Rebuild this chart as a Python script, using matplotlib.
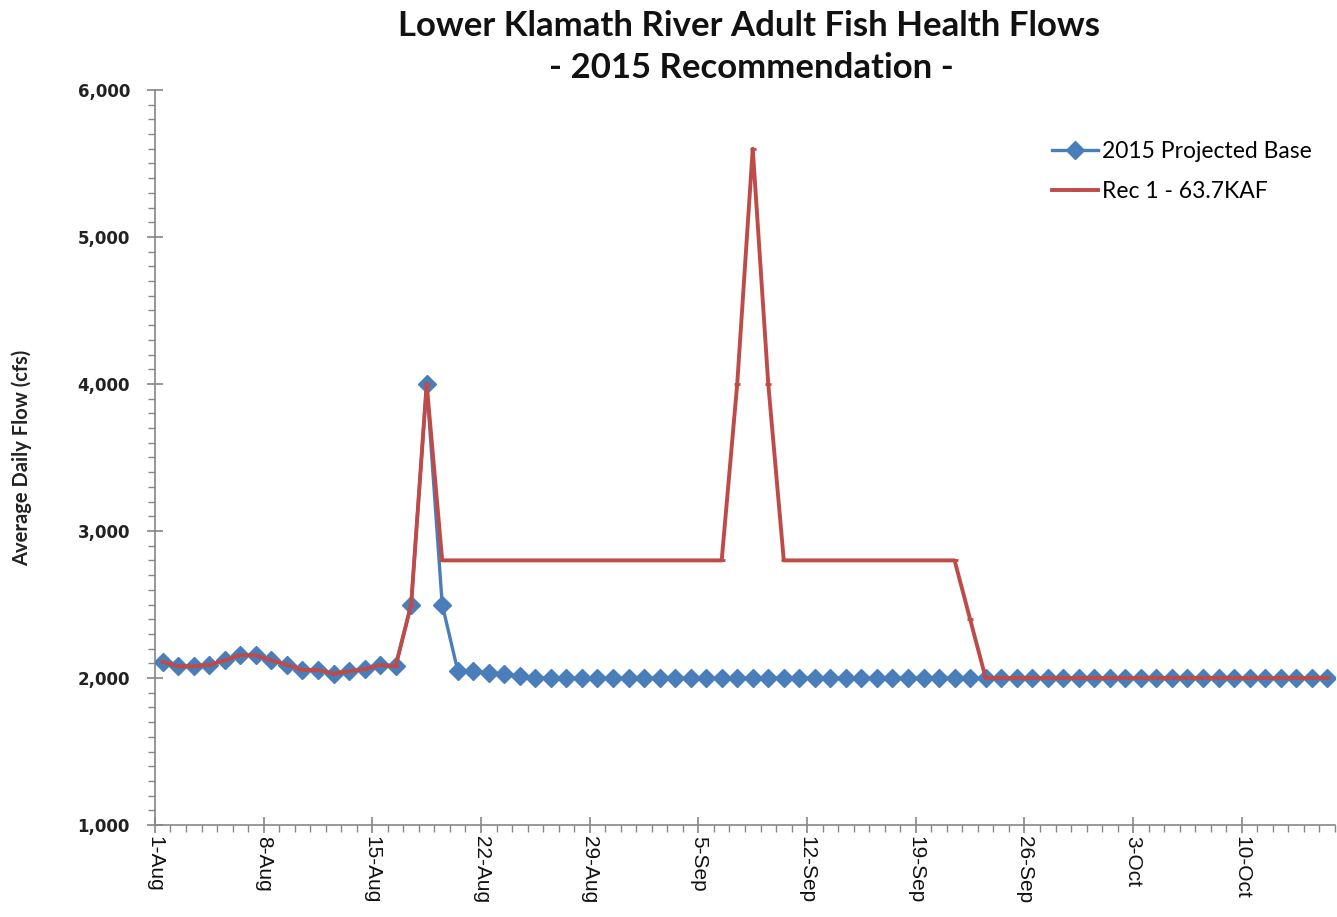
import matplotlib
matplotlib.use('Agg')
import matplotlib.pyplot as plt
import matplotlib.dates as mdates
import matplotlib.ticker as mticker
import pandas as pd

# daily dates, 1-Aug through 15-Oct 2015
days = pd.date_range('2015-08-01', '2015-10-15', freq='D')

# average daily flow (cfs)
base_2015 = ([2110, 2080, 2080, 2090, 2120, 2155, 2155, 2120, 2090, 2055,
              2055, 2030, 2045, 2060, 2090, 2080, 2500, 4000, 2500, 2050,
              2045, 2035, 2025, 2015]
             + [2000] * 52)
rec_1 = ([2110, 2080, 2080, 2090, 2120, 2155, 2155, 2120, 2090, 2055,
          2055, 2030, 2045, 2060, 2090, 2080, 2500, 4000]
         + [2800] * 19
         + [4000, 5600, 4000]
         + [2800] * 12
         + [2400]
         + [2000] * 23)

series_names = ['2015 Projected Base', 'Rec 1 - 63.7KAF']
week_ticks = pd.date_range('2015-08-01', '2015-10-16', freq='7D')

blue = '#4A7EBB'
red = '#BE4B48'
grey = '#868686'

fig = plt.figure(figsize=(13.37, 9.17), dpi=100)
ax = fig.add_axes([0.1159, 0.1003, 0.8826, 0.8016])

# each daily value sits in the middle of its day
xs = days + pd.Timedelta(hours=12)
ax.plot(xs, base_2015, color=blue, lw=2.4, marker='D', ms=9.5,
        mec=blue, mfc=blue, label=series_names[0], zorder=3)
ax.plot(xs, rec_1, color=red, lw=2.8, marker='_', ms=5, mew=2,
        label=series_names[1], zorder=4)

ax.set_xlim(pd.Timestamp('2015-08-01'), pd.Timestamp('2015-10-16'))
ax.set_ylim(1000, 6000)

ax.xaxis.set_major_locator(mticker.FixedLocator(mdates.date2num(week_ticks)))
ax.xaxis.set_major_formatter(mdates.DateFormatter('%-d-%b'))
ax.xaxis.set_minor_locator(mdates.DayLocator())
ax.yaxis.set_major_locator(mticker.MultipleLocator(1000))
ax.yaxis.set_minor_locator(mticker.MultipleLocator(100))
ax.yaxis.set_major_formatter(mticker.StrMethodFormatter('{x:,.0f}'))

for s in ['top', 'right']:
    ax.spines[s].set_visible(False)
for s in ['left', 'bottom']:
    ax.spines[s].set_color(grey)
    ax.spines[s].set_linewidth(1.2)

ax.tick_params(which='major', direction='inout', length=12, width=1.2, color=grey)
ax.tick_params(which='minor', direction='out', length=5, width=1, color=grey)
ax.tick_params(axis='x', which='major', pad=2)
ax.tick_params(axis='y', which='major', pad=12)

for lab in ax.get_yticklabels():
    lab.set_fontweight('bold')
    lab.set_fontsize(12)
    lab.set_color('#222222')
plt.setp(ax.get_xticklabels(), rotation=-90, ha='center', va='top',
         fontsize=15, color='#111111', family='Liberation Sans')

ax.set_ylabel('Average Daily Flow (cfs)', family='Lato', fontweight='bold',
              fontsize=14.5, color='#222222')
ax.yaxis.set_label_coords(-0.104, 0.5)

fig.text(0.56, 0.972, 'Lower Klamath River Adult Fish Health Flows',
         ha='center', va='center', family='Lato', fontweight='bold',
         fontsize=25, color='#111111')
fig.text(0.562, 0.926, '- 2015 Recommendation -',
         ha='center', va='center', family='Lato', fontweight='bold',
         fontsize=25, color='#111111')

leg = ax.legend(loc='upper left', bbox_to_anchor=(0.76, 0.93), frameon=False,
                prop={'family': 'Lato', 'size': 16.5}, handlelength=2.0,
                handletextpad=0.2, labelspacing=0.8, borderpad=0,
                borderaxespad=0)

fig.savefig('out.png', dpi=100)
